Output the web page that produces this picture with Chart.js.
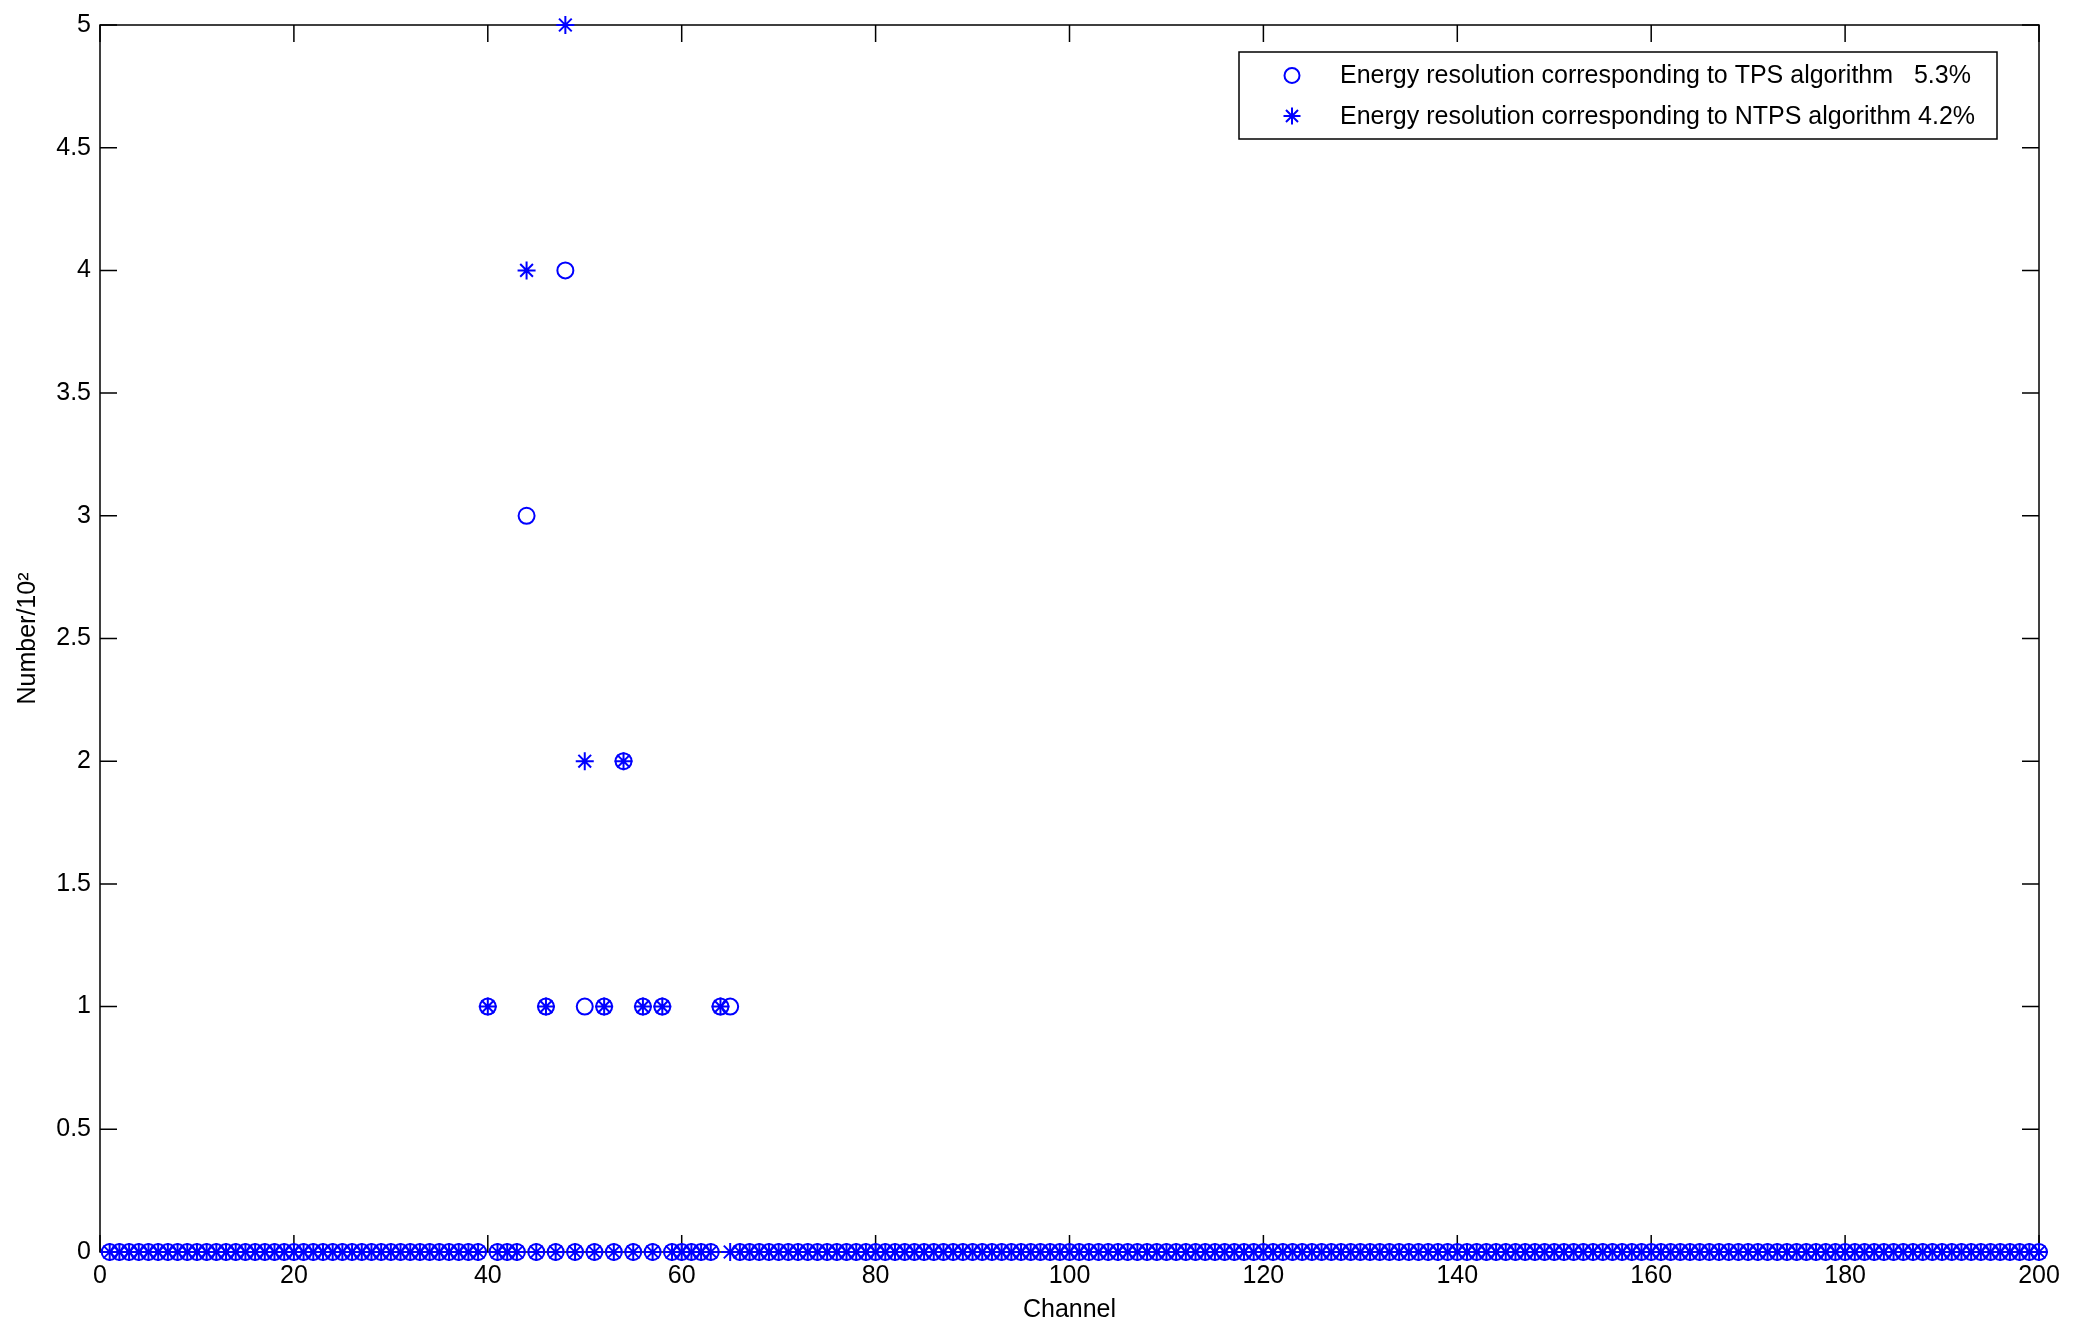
<!DOCTYPE html>
<html><head><meta charset="utf-8">
<script src="https://cdn.jsdelivr.net/npm/chart.js@4.4.1/dist/chart.umd.min.js"></script>
<style>html,body{margin:0;padding:0;background:#fff;}</style>
</head><body>
<canvas id="c" width="2076" height="1335"></canvas>
<script>
// ---- data ----
const channels = [
  1,2,3,4,5,6,7,8,9,10,11,12,13,14,15,16,17,18,19,20,
  21,22,23,24,25,26,27,28,29,30,31,32,33,34,35,36,37,38,39,40,
  41,42,43,44,45,46,47,48,49,50,51,52,53,54,55,56,57,58,59,60,
  61,62,63,64,65,66,67,68,69,70,71,72,73,74,75,76,77,78,79,80,
  81,82,83,84,85,86,87,88,89,90,91,92,93,94,95,96,97,98,99,100,
  101,102,103,104,105,106,107,108,109,110,111,112,113,114,115,116,117,118,119,120,
  121,122,123,124,125,126,127,128,129,130,131,132,133,134,135,136,137,138,139,140,
  141,142,143,144,145,146,147,148,149,150,151,152,153,154,155,156,157,158,159,160,
  161,162,163,164,165,166,167,168,169,170,171,172,173,174,175,176,177,178,179,180,
  181,182,183,184,185,186,187,188,189,190,191,192,193,194,195,196,197,198,199,200
];
const tpsCounts = [
  0,0,0,0,0,0,0,0,0,0,0,0,0,0,0,0,0,0,0,0,
  0,0,0,0,0,0,0,0,0,0,0,0,0,0,0,0,0,0,0,1,
  0,0,0,3,0,1,0,4,0,1,0,1,0,2,0,1,0,1,0,0,
  0,0,0,1,1,0,0,0,0,0,0,0,0,0,0,0,0,0,0,0,
  0,0,0,0,0,0,0,0,0,0,0,0,0,0,0,0,0,0,0,0,
  0,0,0,0,0,0,0,0,0,0,0,0,0,0,0,0,0,0,0,0,
  0,0,0,0,0,0,0,0,0,0,0,0,0,0,0,0,0,0,0,0,
  0,0,0,0,0,0,0,0,0,0,0,0,0,0,0,0,0,0,0,0,
  0,0,0,0,0,0,0,0,0,0,0,0,0,0,0,0,0,0,0,0,
  0,0,0,0,0,0,0,0,0,0,0,0,0,0,0,0,0,0,0,0
];
const ntpsCounts = [
  0,0,0,0,0,0,0,0,0,0,0,0,0,0,0,0,0,0,0,0,
  0,0,0,0,0,0,0,0,0,0,0,0,0,0,0,0,0,0,0,1,
  0,0,0,4,0,1,0,5,0,2,0,1,0,2,0,1,0,1,0,0,
  0,0,0,1,0,0,0,0,0,0,0,0,0,0,0,0,0,0,0,0,
  0,0,0,0,0,0,0,0,0,0,0,0,0,0,0,0,0,0,0,0,
  0,0,0,0,0,0,0,0,0,0,0,0,0,0,0,0,0,0,0,0,
  0,0,0,0,0,0,0,0,0,0,0,0,0,0,0,0,0,0,0,0,
  0,0,0,0,0,0,0,0,0,0,0,0,0,0,0,0,0,0,0,0,
  0,0,0,0,0,0,0,0,0,0,0,0,0,0,0,0,0,0,0,0,
  0,0,0,0,0,0,0,0,0,0,0,0,0,0,0,0,0,0,0,0
];
const xTicks = [0,20,40,60,80,100,120,140,160,180,200];
const yTicks = [0,0.5,1,1.5,2,2.5,3,3.5,4,4.5,5];
const yTickLabels = ['0','0.5','1','1.5','2','2.5','3','3.5','4','4.5','5'];
const legendLabels = [
  'Energy resolution corresponding to TPS algorithm   5.3%',
  'Energy resolution corresponding to NTPS algorithm 4.2%'
];
const xTitle = 'Channel';
const yTitle = 'Number/10\u00B2';

// ---- styles ----
const BLUE = '#0000ff';
const FONT = "'Liberation Sans', Arial, sans-serif";
Chart.defaults.font.family = FONT;

function drawMarker(ctx, style, x, y, r) {
  ctx.save();
  ctx.strokeStyle = BLUE; ctx.lineWidth = 2;
  ctx.beginPath();
  if (style === 'circle') {
    ctx.arc(x, y, r, 0, Math.PI * 2);
  } else {
    for (let k = 0; k < 4; k++) {
      const a = k * Math.PI / 4;
      ctx.moveTo(x - Math.cos(a) * r, y - Math.sin(a) * r);
      ctx.lineTo(x + Math.cos(a) * r, y + Math.sin(a) * r);
    }
  }
  ctx.stroke();
  ctx.restore();
}

const boxPlugin = {
  id: 'matlabBox',
  beforeDatasetsDraw(chart) {
    const {ctx, chartArea: a, scales} = chart;
    ctx.save();
    ctx.strokeStyle = '#000'; ctx.lineWidth = 1.5;
    ctx.strokeRect(a.left, a.top, a.right - a.left, a.bottom - a.top);
    const TL = 17;
    ctx.beginPath();
    xTicks.forEach(v => {
      const px = scales.x.getPixelForValue(v);
      ctx.moveTo(px, a.bottom); ctx.lineTo(px, a.bottom - TL);
      ctx.moveTo(px, a.top); ctx.lineTo(px, a.top + TL);
    });
    yTicks.forEach(v => {
      const py = scales.y.getPixelForValue(v);
      ctx.moveTo(a.left, py); ctx.lineTo(a.left + TL, py);
      ctx.moveTo(a.right, py); ctx.lineTo(a.right - TL, py);
    });
    ctx.stroke();
    ctx.restore();
  }
};

const legendPlugin = {
  id: 'matlabLegend',
  afterDraw(chart) {
    const {ctx, chartArea: a} = chart;
    const right = a.right - 42, top = a.top + 27, w = 758, h = 87;
    const left = right - w;
    ctx.save();
    ctx.fillStyle = '#fff';
    ctx.fillRect(left, top, w, h);
    ctx.strokeStyle = '#000'; ctx.lineWidth = 1.5;
    ctx.strokeRect(left, top, w, h);
    ctx.font = '25px ' + FONT;
    ctx.fillStyle = '#000';
    ctx.textBaseline = 'middle';
    ctx.textAlign = 'left';
    const styles = ['circle', 'star'];
    const rows = [top + 23.5, top + 64];
    legendLabels.forEach((t, i) => {
      drawMarker(ctx, styles[i], left + 53, rows[i], i === 0 ? 7.5 : 8.5);
      ctx.fillText(t, left + 101, rows[i] + 1);
    });
    ctx.restore();
  }
};

const mk = vals => channels.map((c, i) => ({x: c, y: vals[i]}));

new Chart(document.getElementById('c'), {
  type: 'scatter',
  data: {
    datasets: [
      {label: legendLabels[0], data: mk(tpsCounts), pointStyle: 'circle', pointRadius: 8,
       pointHoverRadius: 8, pointBorderWidth: 2, borderColor: BLUE, pointBorderColor: BLUE,
       backgroundColor: 'rgba(0,0,0,0)', pointBackgroundColor: 'rgba(0,0,0,0)', showLine: false, clip: false},
      {label: legendLabels[1], data: mk(ntpsCounts), pointStyle: 'star', pointRadius: 9,
       pointHoverRadius: 9, pointBorderWidth: 2, borderColor: BLUE, pointBorderColor: BLUE,
       backgroundColor: BLUE, pointBackgroundColor: BLUE, showLine: false, clip: false}
    ]
  },
  options: {
    responsive: false,
    animation: false,
    events: [],
    layout: {padding: {top: 25, right: 37, left: 0, bottom: 0}},
    plugins: {legend: {display: false}, tooltip: {enabled: false}},
    scales: {
      x: {
        type: 'linear', min: 0, max: 200,
        afterBuildTicks: s => { s.ticks = xTicks.map(v => ({value: v})); },
        afterFit: s => { s.height = 83; },
        ticks: {padding: 9, color: '#000', font: {size: 25}, maxRotation: 0, autoSkip: false,
                callback: v => String(v)},
        grid: {display: false, drawTicks: false},
        border: {display: false},
        title: {display: true, text: xTitle, color: '#000', font: {size: 25}, padding: {top: 0, bottom: 10}}
      },
      y: {
        type: 'linear', min: 0, max: 5,
        afterBuildTicks: s => { s.ticks = yTicks.map(v => ({value: v})); },
        afterFit: s => { s.width = 100; },
        ticks: {padding: 9, color: '#000', font: {size: 25}, autoSkip: false,
                callback: (v, i) => yTickLabels[i]},
        grid: {display: false, drawTicks: false},
        border: {display: false},
        title: {display: true, text: yTitle, color: '#000', font: {size: 25}, padding: {top: 13, bottom: 0}}
      }
    }
  },
  plugins: [boxPlugin, legendPlugin]
});
</script>
</body></html>
